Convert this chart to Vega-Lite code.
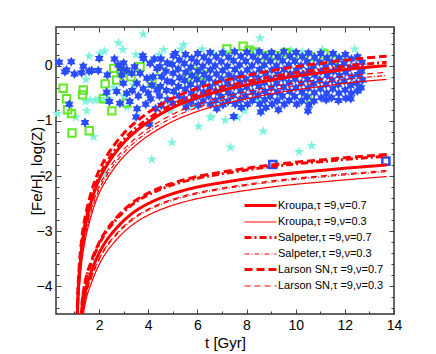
{
  "$schema": "https://vega.github.io/schema/vega-lite/v6.json",
  "autosize": {"type": "none"},
  "width": 338,
  "height": 287,
  "padding": {"left": 56, "top": 27, "right": 42, "bottom": 40},
  "background": "white",
  "config": {
    "font": "Liberation Sans",
    "view": {"stroke": "#333", "strokeWidth": 1.5},
    "axis": {"grid": false, "domain": false, "labelFont": "Liberation Sans", "labelFontSize": 14, "labelColor": "#000", "titleFont": "Liberation Sans", "titleFontSize": 15, "titleFontWeight": "normal", "titleColor": "#000", "tickColor": "#444", "tickWidth": 1},
    "legend": {"labelFont": "Liberation Sans"}
  },
  "datasets": {
    "cyan": [
      {"t":0.3,"y":-0.87},{"t":1.06,"y":-0.93},{"t":1.5,"y":-0.82},{"t":1.78,"y":-1.29},{"t":1.47,"y":-0.25},{"t":1.45,"y":-0.65},{"t":1.64,"y":-0.62},{"t":1.85,"y":-0.63},{"t":2.02,"y":-0.6},{"t":2.2,"y":-0.63},{"t":2.4,"y":-0.6},{"t":3.13,"y":-0.75},{"t":4.97,"y":-1.39},{"t":4.15,"y":-1.7},{"t":6.05,"y":-1.1},{"t":6.53,"y":-0.93},{"t":2.29,"y":-1.96},{"t":1.6,"y":0.17},{"t":2.04,"y":0.22},{"t":2.22,"y":0.26},{"t":2.79,"y":0.41},{"t":2.97,"y":0.29},{"t":3.8,"y":0.57},{"t":4.63,"y":0.29},{"t":4.45,"y":0.2},{"t":5.44,"y":0.38},{"t":5.33,"y":0.3},{"t":6.67,"y":0.22},{"t":8.55,"y":0.5},{"t":8.25,"y":0.3},{"t":10.27,"y":0.25},{"t":11.09,"y":0.29},{"t":12.4,"y":0.3},{"t":6.57,"y":-0.94},{"t":7.14,"y":-0.99},{"t":7.64,"y":-0.94},{"t":7.92,"y":-0.82},{"t":8.68,"y":-1.19},{"t":7.35,"y":-1.48},{"t":10.14,"y":-1.56},{"t":10.65,"y":-1.45},{"t":9.3,"y":-0.62},{"t":8.44,"y":-0.62},{"t":3.4,"y":-0.35},{"t":3.0,"y":-0.55},{"t":2.6,"y":-0.4},{"t":5.8,"y":-0.72},{"t":11.6,"y":0.2},{"t":12.0,"y":0.12},{"t":9.8,"y":0.28},{"t":7.1,"y":0.25},{"t":6.2,"y":0.3},{"t":3.5,"y":0.2},{"t":4.9,"y":-0.82},{"t":12.6,"y":-0.45}
    ],
    "green": [
      {"t":0.54,"y":-0.41},{"t":0.68,"y":-0.6},{"t":0.72,"y":-0.8},{"t":0.88,"y":-0.87},{"t":0.9,"y":-1.22},{"t":1.6,"y":-1.18},{"t":1.36,"y":-0.44},{"t":1.33,"y":-0.53},{"t":2.25,"y":-0.33},{"t":2.52,"y":-0.82},{"t":2.72,"y":-0.26},{"t":2.18,"y":-0.6},{"t":3.67,"y":-0.02},{"t":4.53,"y":-0.11},{"t":3.13,"y":-0.68},{"t":4.15,"y":-0.32},{"t":7.86,"y":0.35},{"t":8.1,"y":0.28},{"t":8.3,"y":0.25},{"t":8.8,"y":0.18},{"t":9.18,"y":0.18},{"t":9.59,"y":0.24},{"t":10.6,"y":0.16},{"t":11.15,"y":0.21},{"t":11.5,"y":0.1},{"t":10.48,"y":-0.59},{"t":5.6,"y":-0.2},{"t":5.8,"y":-0.11},{"t":6.1,"y":-0.2},{"t":6.2,"y":-0.17},{"t":2.9,"y":-0.1},{"t":3.3,"y":-0.2},{"t":2.6,"y":-0.05},{"t":7.2,"y":0.3},{"t":9.9,"y":0.2}
    ],
    "bluesq": [{"t":9.07,"y":-1.79},{"t":13.67,"y":-1.73}],
    "blue": [
      {"t":0.38,"y":0.06},{"t":0.87,"y":0.07},{"t":0.68,"y":-0.08},{"t":0.61,"y":-0.11},{"t":1.0,"y":-0.15},{"t":1.29,"y":-0.13},{"t":1.36,"y":-0.01},{"t":1.6,"y":-0.1},{"t":1.7,"y":-0.09},{"t":1.97,"y":-0.09},{"t":2.01,"y":0.13},{"t":2.34,"y":-0.17},{"t":2.63,"y":0.12},{"t":2.79,"y":0.01},{"t":2.93,"y":-0.17},{"t":0.79,"y":-0.7},{"t":1.43,"y":-1.03},{"t":2.31,"y":-0.48},{"t":2.42,"y":-0.65},{"t":3.51,"y":-0.93},{"t":4.05,"y":-1.06},{"t":3.78,"y":0.18},{"t":5.1,"y":0.22},
      {"t":3.13,"y":-0.08},{"t":3.33,"y":-0.14},{"t":2.99,"y":-0.32},{"t":2.72,"y":-0.47},{"t":3.13,"y":-0.5},{"t":3.54,"y":-0.32},{"t":3.81,"y":0.13},{"t":4.08,"y":0.04},{"t":3.67,"y":-0.14},{"t":3.95,"y":-0.23},{"t":4.15,"y":-0.35},{"t":4.36,"y":-0.05},{"t":4.36,"y":-0.44},{"t":3.0,"y":0.05},{"t":3.25,"y":-0.65},{"t":3.45,"y":-0.02},{"t":3.6,"y":-0.55},{"t":3.8,"y":-0.42},{"t":3.9,"y":-0.7},{"t":4.1,"y":-0.6},{"t":4.25,"y":0.12},{"t":4.3,"y":-0.78},{"t":2.85,"y":-0.68},{"t":3.55,"y":-0.78},{"t":4.0,"y":-0.5},{"t":3.35,"y":-0.45},{"t":2.88,"y":-0.05},{"t":4.2,"y":-0.2},
      {"t":4.52,"y":0.12},{"t":4.47,"y":-0.02},{"t":4.55,"y":-0.2},{"t":4.5,"y":-0.38},{"t":4.46,"y":-0.55},{"t":4.53,"y":-0.72},
      {"t":4.78,"y":0.05},{"t":4.72,"y":-0.1},{"t":4.77,"y":-0.28},{"t":4.74,"y":-0.45},{"t":4.79,"y":-0.62},
      {"t":5.03,"y":0.18},{"t":4.98,"y":0.02},{"t":5.02,"y":-0.14},{"t":4.97,"y":-0.3},{"t":5.04,"y":-0.47},{"t":5.0,"y":-0.68},
      {"t":5.27,"y":0.1},{"t":5.22,"y":-0.06},{"t":5.28,"y":-0.22},{"t":5.23,"y":-0.38},{"t":5.26,"y":-0.55},
      {"t":5.52,"y":0.2},{"t":5.47,"y":0.04},{"t":5.53,"y":-0.12},{"t":5.48,"y":-0.27},{"t":5.51,"y":-0.43},{"t":5.46,"y":-0.6},{"t":5.54,"y":-0.75},
      {"t":5.77,"y":0.13},{"t":5.73,"y":-0.03},{"t":5.78,"y":-0.18},{"t":5.72,"y":-0.34},{"t":5.76,"y":-0.5},{"t":5.74,"y":-0.66},
      {"t":6.02,"y":0.22},{"t":5.97,"y":0.06},{"t":6.03,"y":-0.1},{"t":5.98,"y":-0.25},{"t":6.01,"y":-0.41},{"t":5.96,"y":-0.57},{"t":6.04,"y":-0.72},
      {"t":6.27,"y":0.15},{"t":6.22,"y":-0.01},{"t":6.28,"y":-0.16},{"t":6.23,"y":-0.32},{"t":6.26,"y":-0.48},{"t":6.24,"y":-0.64},
      {"t":6.52,"y":0.24},{"t":6.47,"y":0.08},{"t":6.53,"y":-0.08},{"t":6.48,"y":-0.23},{"t":6.51,"y":-0.39},{"t":6.46,"y":-0.55},{"t":6.54,"y":-0.7},
      {"t":6.77,"y":0.16},{"t":6.72,"y":0.0},{"t":6.78,"y":-0.15},{"t":6.73,"y":-0.31},{"t":6.76,"y":-0.47},{"t":6.74,"y":-0.63},{"t":6.79,"y":-0.78},
      {"t":7.02,"y":0.23},{"t":6.97,"y":0.07},{"t":7.03,"y":-0.09},{"t":6.98,"y":-0.24},{"t":7.01,"y":-0.4},{"t":6.96,"y":-0.56},{"t":7.04,"y":-0.71},
      {"t":7.27,"y":0.15},{"t":7.22,"y":-0.01},{"t":7.28,"y":-0.17},{"t":7.23,"y":-0.33},{"t":7.26,"y":-0.49},{"t":7.24,"y":-0.65},
      {"t":7.52,"y":0.25},{"t":7.47,"y":0.09},{"t":7.53,"y":-0.07},{"t":7.48,"y":-0.22},{"t":7.51,"y":-0.38},{"t":7.46,"y":-0.54},{"t":7.54,"y":-0.7},{"t":7.48,"y":-0.92},
      {"t":7.77,"y":0.17},{"t":7.72,"y":0.01},{"t":7.78,"y":-0.15},{"t":7.73,"y":-0.3},{"t":7.76,"y":-0.46},{"t":7.74,"y":-0.62},{"t":7.79,"y":-0.76},
      {"t":8.02,"y":0.24},{"t":7.97,"y":0.08},{"t":8.03,"y":-0.08},{"t":7.98,"y":-0.24},{"t":8.01,"y":-0.39},{"t":7.96,"y":-0.55},{"t":8.04,"y":-0.7},
      {"t":8.27,"y":0.16},{"t":8.22,"y":0.0},{"t":8.28,"y":-0.16},{"t":8.23,"y":-0.32},{"t":8.26,"y":-0.48},{"t":8.24,"y":-0.63},
      {"t":8.52,"y":0.25},{"t":8.47,"y":0.09},{"t":8.53,"y":-0.07},{"t":8.48,"y":-0.23},{"t":8.51,"y":-0.38},{"t":8.46,"y":-0.54},{"t":8.54,"y":-0.7},{"t":8.58,"y":-0.84},
      {"t":8.77,"y":0.17},{"t":8.72,"y":0.01},{"t":8.78,"y":-0.15},{"t":8.73,"y":-0.31},{"t":8.76,"y":-0.47},{"t":8.74,"y":-0.62},{"t":8.79,"y":-0.76},
      {"t":9.02,"y":0.24},{"t":8.97,"y":0.08},{"t":9.03,"y":-0.08},{"t":8.98,"y":-0.24},{"t":9.01,"y":-0.4},{"t":8.96,"y":-0.56},{"t":9.04,"y":-0.7},
      {"t":9.27,"y":0.16},{"t":9.22,"y":0.0},{"t":9.28,"y":-0.16},{"t":9.23,"y":-0.32},{"t":9.26,"y":-0.48},{"t":9.24,"y":-0.64},{"t":9.3,"y":-0.8},
      {"t":9.52,"y":0.25},{"t":9.47,"y":0.09},{"t":9.53,"y":-0.07},{"t":9.48,"y":-0.23},{"t":9.51,"y":-0.39},{"t":9.46,"y":-0.55},{"t":9.54,"y":-0.7},
      {"t":9.77,"y":0.17},{"t":9.72,"y":0.01},{"t":9.78,"y":-0.15},{"t":9.73,"y":-0.31},{"t":9.76,"y":-0.47},{"t":9.74,"y":-0.63},
      {"t":10.02,"y":0.24},{"t":9.97,"y":0.08},{"t":10.03,"y":-0.08},{"t":9.98,"y":-0.24},{"t":10.01,"y":-0.4},{"t":9.96,"y":-0.56},{"t":10.04,"y":-0.7},
      {"t":10.27,"y":0.16},{"t":10.22,"y":0.0},{"t":10.28,"y":-0.16},{"t":10.23,"y":-0.32},{"t":10.26,"y":-0.48},{"t":10.24,"y":-0.64},
      {"t":10.52,"y":0.23},{"t":10.47,"y":0.07},{"t":10.53,"y":-0.09},{"t":10.48,"y":-0.25},{"t":10.51,"y":-0.41},{"t":10.46,"y":-0.57},{"t":10.54,"y":-0.72},{"t":10.5,"y":-0.82},
      {"t":10.77,"y":0.15},{"t":10.72,"y":-0.01},{"t":10.78,"y":-0.17},{"t":10.73,"y":-0.33},{"t":10.76,"y":-0.49},{"t":10.74,"y":-0.64},
      {"t":11.02,"y":0.22},{"t":10.97,"y":0.06},{"t":11.03,"y":-0.1},{"t":10.98,"y":-0.26},{"t":11.01,"y":-0.42},{"t":11.04,"y":-0.58},
      {"t":11.27,"y":0.14},{"t":11.22,"y":-0.02},{"t":11.28,"y":-0.18},{"t":11.23,"y":-0.34},{"t":11.26,"y":-0.5},{"t":11.24,"y":-0.62},
      {"t":11.52,"y":0.22},{"t":11.47,"y":0.06},{"t":11.53,"y":-0.1},{"t":11.48,"y":-0.26},{"t":11.51,"y":-0.42},{"t":11.46,"y":-0.58},
      {"t":11.77,"y":0.14},{"t":11.72,"y":-0.02},{"t":11.78,"y":-0.18},{"t":11.73,"y":-0.34},{"t":11.76,"y":-0.5},{"t":11.74,"y":-0.63},
      {"t":12.02,"y":0.2},{"t":11.97,"y":0.04},{"t":12.03,"y":-0.12},{"t":11.98,"y":-0.28},{"t":12.01,"y":-0.44},{"t":12.04,"y":-0.59},
      {"t":12.27,"y":0.12},{"t":12.22,"y":-0.04},{"t":12.28,"y":-0.2},{"t":12.23,"y":-0.36},{"t":12.26,"y":-0.5},{"t":12.24,"y":-0.6},
      {"t":12.52,"y":0.16},{"t":12.47,"y":0.0},{"t":12.53,"y":-0.16},{"t":12.48,"y":-0.32},{"t":12.51,"y":-0.46},
      {"t":12.7,"y":0.06},{"t":12.68,"y":-0.1},{"t":12.72,"y":-0.26},{"t":12.66,"y":-0.4}
    ],
    "curves": [
      {"g":"u","t":1.08,"K7":-5.2,"S7":-5.14,"L7":-5.03,"K3":-5.45,"S3":-5.38,"L3":-5.32},
      {"g":"u","t":1.12,"K7":-4.5,"S7":-4.44,"L7":-4.33,"K3":-4.75,"S3":-4.68,"L3":-4.62},
      {"g":"u","t":1.16,"K7":-4.05,"S7":-3.99,"L7":-3.88,"K3":-4.3,"S3":-4.23,"L3":-4.17},
      {"g":"u","t":1.2,"K7":-3.78,"S7":-3.72,"L7":-3.61,"K3":-4.03,"S3":-3.96,"L3":-3.9},
      {"g":"u","t":1.3,"K7":-3.3,"S7":-3.24,"L7":-3.13,"K3":-3.55,"S3":-3.48,"L3":-3.42},
      {"g":"u","t":1.4,"K7":-3.0,"S7":-2.94,"L7":-2.83,"K3":-3.25,"S3":-3.18,"L3":-3.12},
      {"g":"u","t":1.5,"K7":-2.78,"S7":-2.72,"L7":-2.61,"K3":-3.03,"S3":-2.96,"L3":-2.9},
      {"g":"u","t":1.65,"K7":-2.52,"S7":-2.46,"L7":-2.35,"K3":-2.77,"S3":-2.7,"L3":-2.64},
      {"g":"u","t":1.8,"K7":-2.3,"S7":-2.24,"L7":-2.13,"K3":-2.55,"S3":-2.48,"L3":-2.42},
      {"g":"u","t":2.0,"K7":-2.07,"S7":-2.01,"L7":-1.9,"K3":-2.32,"S3":-2.25,"L3":-2.19},
      {"g":"u","t":2.3,"K7":-1.82,"S7":-1.76,"L7":-1.65,"K3":-2.07,"S3":-2.0,"L3":-1.94},
      {"g":"u","t":2.6,"K7":-1.62,"S7":-1.56,"L7":-1.45,"K3":-1.87,"S3":-1.8,"L3":-1.74},
      {"g":"u","t":3.0,"K7":-1.4,"S7":-1.34,"L7":-1.23,"K3":-1.65,"S3":-1.58,"L3":-1.52},
      {"g":"u","t":3.5,"K7":-1.19,"S7":-1.13,"L7":-1.02,"K3":-1.44,"S3":-1.37,"L3":-1.31},
      {"g":"u","t":4.0,"K7":-1.02,"S7":-0.96,"L7":-0.85,"K3":-1.27,"S3":-1.2,"L3":-1.14},
      {"g":"u","t":4.5,"K7":-0.88,"S7":-0.82,"L7":-0.71,"K3":-1.13,"S3":-1.06,"L3":-1.0},
      {"g":"u","t":5.0,"K7":-0.76,"S7":-0.7,"L7":-0.59,"K3":-1.01,"S3":-0.94,"L3":-0.88},
      {"g":"u","t":6.0,"K7":-0.58,"S7":-0.52,"L7":-0.41,"K3":-0.83,"S3":-0.76,"L3":-0.7},
      {"g":"u","t":7.0,"K7":-0.45,"S7":-0.39,"L7":-0.28,"K3":-0.7,"S3":-0.63,"L3":-0.57},
      {"g":"u","t":8.0,"K7":-0.35,"S7":-0.29,"L7":-0.18,"K3":-0.6,"S3":-0.53,"L3":-0.47},
      {"g":"u","t":9.0,"K7":-0.26,"S7":-0.2,"L7":-0.09,"K3":-0.51,"S3":-0.44,"L3":-0.38},
      {"g":"u","t":10.0,"K7":-0.19,"S7":-0.13,"L7":-0.02,"K3":-0.44,"S3":-0.37,"L3":-0.31},
      {"g":"u","t":11.0,"K7":-0.13,"S7":-0.07,"L7":0.04,"K3":-0.38,"S3":-0.31,"L3":-0.25},
      {"g":"u","t":12.0,"K7":-0.07,"S7":-0.01,"L7":0.1,"K3":-0.32,"S3":-0.25,"L3":-0.19},
      {"g":"u","t":13.7,"K7":0.0,"S7":0.06,"L7":0.17,"K3":-0.25,"S3":-0.18,"L3":-0.12},
      {"g":"l","t":1.22,"K7":-5.2,"S7":-5.04,"L7":-5.01,"K3":-5.41,"S3":-5.32,"L3":-5.3},
      {"g":"l","t":1.28,"K7":-4.7,"S7":-4.54,"L7":-4.51,"K3":-4.91,"S3":-4.82,"L3":-4.8},
      {"g":"l","t":1.32,"K7":-4.45,"S7":-4.29,"L7":-4.26,"K3":-4.66,"S3":-4.57,"L3":-4.55},
      {"g":"l","t":1.4,"K7":-4.2,"S7":-4.04,"L7":-4.01,"K3":-4.41,"S3":-4.32,"L3":-4.3},
      {"g":"l","t":1.5,"K7":-3.98,"S7":-3.82,"L7":-3.79,"K3":-4.19,"S3":-4.1,"L3":-4.08},
      {"g":"l","t":1.65,"K7":-3.78,"S7":-3.62,"L7":-3.59,"K3":-3.99,"S3":-3.9,"L3":-3.88},
      {"g":"l","t":1.8,"K7":-3.6,"S7":-3.44,"L7":-3.41,"K3":-3.81,"S3":-3.72,"L3":-3.7},
      {"g":"l","t":2.0,"K7":-3.4,"S7":-3.24,"L7":-3.21,"K3":-3.61,"S3":-3.52,"L3":-3.5},
      {"g":"l","t":2.3,"K7":-3.17,"S7":-3.01,"L7":-2.98,"K3":-3.38,"S3":-3.29,"L3":-3.27},
      {"g":"l","t":2.6,"K7":-3.0,"S7":-2.84,"L7":-2.81,"K3":-3.21,"S3":-3.12,"L3":-3.1},
      {"g":"l","t":3.0,"K7":-2.81,"S7":-2.65,"L7":-2.62,"K3":-3.02,"S3":-2.93,"L3":-2.91},
      {"g":"l","t":3.5,"K7":-2.63,"S7":-2.47,"L7":-2.44,"K3":-2.84,"S3":-2.75,"L3":-2.73},
      {"g":"l","t":4.0,"K7":-2.5,"S7":-2.34,"L7":-2.31,"K3":-2.71,"S3":-2.62,"L3":-2.6},
      {"g":"l","t":4.5,"K7":-2.4,"S7":-2.24,"L7":-2.21,"K3":-2.61,"S3":-2.52,"L3":-2.5},
      {"g":"l","t":5.0,"K7":-2.32,"S7":-2.16,"L7":-2.13,"K3":-2.53,"S3":-2.44,"L3":-2.42},
      {"g":"l","t":6.0,"K7":-2.2,"S7":-2.04,"L7":-2.01,"K3":-2.41,"S3":-2.32,"L3":-2.3},
      {"g":"l","t":7.0,"K7":-2.12,"S7":-1.96,"L7":-1.93,"K3":-2.33,"S3":-2.24,"L3":-2.22},
      {"g":"l","t":8.0,"K7":-2.05,"S7":-1.89,"L7":-1.86,"K3":-2.26,"S3":-2.17,"L3":-2.15},
      {"g":"l","t":9.0,"K7":-1.99,"S7":-1.83,"L7":-1.8,"K3":-2.2,"S3":-2.11,"L3":-2.09},
      {"g":"l","t":10.0,"K7":-1.94,"S7":-1.78,"L7":-1.75,"K3":-2.15,"S3":-2.06,"L3":-2.04},
      {"g":"l","t":11.0,"K7":-1.9,"S7":-1.74,"L7":-1.71,"K3":-2.11,"S3":-2.02,"L3":-2.0},
      {"g":"l","t":12.0,"K7":-1.86,"S7":-1.7,"L7":-1.67,"K3":-2.07,"S3":-1.98,"L3":-1.96},
      {"g":"l","t":13.7,"K7":-1.8,"S7":-1.64,"L7":-1.61,"K3":-2.01,"S3":-1.92,"L3":-1.9}
    ]
  },
  "layer": [
    {
      "data": {"name": "cyan"},
      "mark": {"type": "point", "filled": true, "opacity": 1, "color": "#7df2dc", "size": 120, "shape": "M0,-1L0.2245,-0.309L0.951,-0.309L0.3633,0.118L0.5878,0.809L0,0.382L-0.5878,0.809L-0.3633,0.118L-0.951,-0.309L-0.2245,-0.309Z"},
      "encoding": {
        "x": {"field": "t", "type": "quantitative", "scale": {"domain": [0.25, 14], "nice": false, "zero": false},
          "axis": {"orient": "bottom", "values": [1,2,3,4,5,6,7,8,9,10,11,12,13,14], "labelExpr": "datum.value % 2 === 0 ? datum.label : ''",
            "tickSize": {"condition": {"test": "datum.value % 2 === 0", "value": -5}, "value": -3},
            "labelPadding": 9, "labelBound": false, "labelFlush": false, "labelOverlap": false, "title": "t [Gyr]", "titlePadding": 1}},
        "y": {"field": "y", "type": "quantitative", "scale": {"domain": [-4.5, 0.7], "nice": false, "zero": false},
          "axis": {"orient": "left", "values": [-4.4,-4.2,-4,-3.8,-3.6,-3.4,-3.2,-3,-2.8,-2.6,-2.4,-2.2,-2,-1.8,-1.6,-1.4,-1.2,-1,-0.8,-0.6,-0.4,-0.2,0,0.2,0.4,0.6],
            "labelExpr": "abs(datum.value - round(datum.value)) < 0.001 ? format(datum.value, 'd') : ''",
            "tickSize": {"condition": {"test": "abs(datum.value - round(datum.value)) < 0.001", "value": -5}, "value": -3},
            "labelPadding": 9, "labelOverlap": false, "labelBound": false, "labelFlush": false, "title": "[Fe/H], log(Z)", "titlePadding": -8}}
      }
    },
    {
      "data": {"name": "green"},
      "mark": {"type": "point", "shape": "square", "filled": false, "opacity": 1, "color": "#62e826", "size": 55, "strokeWidth": 2},
      "encoding": {
        "x": {"field": "t", "type": "quantitative", "axis": null},
        "y": {"field": "y", "type": "quantitative", "axis": null}
      }
    },
    {
      "data": {"name": "blue"},
      "mark": {"type": "point", "filled": true, "opacity": 1, "color": "#2a4cff", "size": 100, "shape": "M0,-1L0.2887,-0.5L0.866,-0.5L0.5774,0L0.866,0.5L0.2887,0.5L0,1L-0.2887,0.5L-0.866,0.5L-0.5774,0L-0.866,-0.5L-0.2887,-0.5Z"},
      "encoding": {
        "x": {"field": "t", "type": "quantitative", "axis": null},
        "y": {"field": "y", "type": "quantitative", "axis": null}
      }
    },
    {
      "data": {"name": "bluesq"},
      "mark": {"type": "point", "shape": "square", "filled": false, "opacity": 1, "color": "#2a4cff", "size": 50, "strokeWidth": 2.5},
      "encoding": {
        "x": {"field": "t", "type": "quantitative", "axis": null},
        "y": {"field": "y", "type": "quantitative", "axis": null}
      }
    },
    {
      "data": {"name": "curves"},
      "transform": [{"fold": ["K7","K3","S7","S3","L7","L3"], "as": ["m", "y"]}],
      "mark": {"type": "line", "color": "#ff0000", "clip": true, "interpolate": "monotone"},
      "encoding": {
        "x": {"field": "t", "type": "quantitative",
          "axis": {"orient": "top", "values": [1,2,3,4,5,6,7,8,9,10,11,12,13,14], "labels": false, "title": null,
            "tickSize": {"condition": {"test": "datum.value % 2 === 0", "value": -5}, "value": -3}}},
        "y": {"field": "y", "type": "quantitative",
          "axis": {"orient": "right", "values": [-4.4,-4.2,-4,-3.8,-3.6,-3.4,-3.2,-3,-2.8,-2.6,-2.4,-2.2,-2,-1.8,-1.6,-1.4,-1.2,-1,-0.8,-0.6,-0.4,-0.2,0,0.2,0.4,0.6], "labels": false, "title": null,
            "tickSize": {"condition": {"test": "abs(datum.value - round(datum.value)) < 0.001", "value": -5}, "value": -3}}},
        "detail": {"field": "g", "type": "nominal"},
        "strokeDash": {"field": "m", "type": "nominal",
          "scale": {"domain": ["K7","K3","S7","S3","L7","L3"], "range": [[1,0],[1,0],[7,3,2,3],[5,2,1,2],[8,4],[6,4]]},
          "legend": {"orient": "none", "legendX": 187, "legendY": 169, "title": null, "symbolType": "M-1,0L3,0", "symbolSize": 256, "symbolStrokeColor": "#ff0000", "labelFontSize": 11, "labelOffset": 16, "rowPadding": 1, "padding": 0,
            "labelExpr": "datum.label == 'K7' ? 'Kroupa,τ =9,ν=0.7' : datum.label == 'K3' ? 'Kroupa,τ =9,ν=0.3' : datum.label == 'S7' ? 'Salpeter,τ =9,ν=0.7' : datum.label == 'S3' ? 'Salpeter,τ =9,ν=0.3' : datum.label == 'L7' ? 'Larson SN,τ =9,ν=0.7' : 'Larson SN,τ =9,ν=0.3'"}},
        "strokeWidth": {"field": "m", "type": "nominal",
          "scale": {"type": "ordinal", "domain": ["K7","K3","S7","S3","L7","L3"], "range": [3,1.2,3,1.2,3,1.2]},
          "legend": {"orient": "none", "legendX": 187, "legendY": 169, "title": null, "symbolType": "M-1,0L3,0", "symbolSize": 256, "symbolStrokeColor": "#ff0000", "labelFontSize": 11, "labelOffset": 16, "rowPadding": 1, "padding": 0,
            "labelExpr": "datum.label == 'K7' ? 'Kroupa,τ =9,ν=0.7' : datum.label == 'K3' ? 'Kroupa,τ =9,ν=0.3' : datum.label == 'S7' ? 'Salpeter,τ =9,ν=0.7' : datum.label == 'S3' ? 'Salpeter,τ =9,ν=0.3' : datum.label == 'L7' ? 'Larson SN,τ =9,ν=0.7' : 'Larson SN,τ =9,ν=0.3'"}}
      }
    }
  ],
  "resolve": {"axis": {"x": "independent", "y": "independent"}}
}
